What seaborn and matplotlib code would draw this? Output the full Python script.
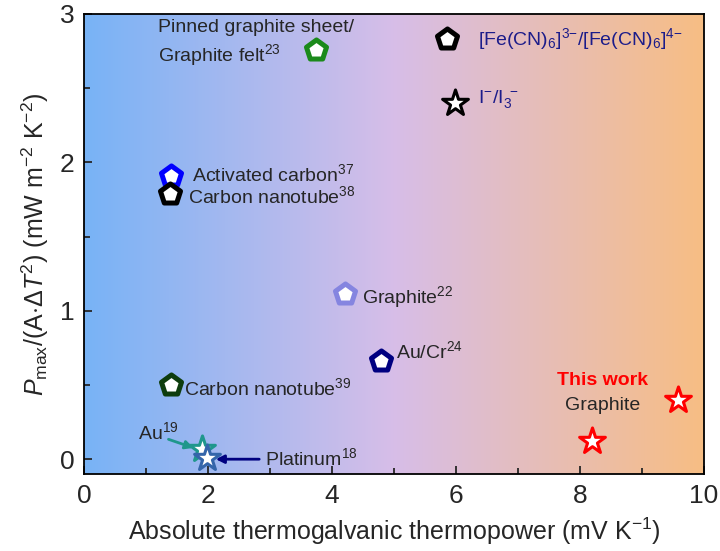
import numpy as np
import pandas as pd
import matplotlib
matplotlib.use("Agg")
import matplotlib.pyplot as plt
import seaborn as sns
from matplotlib.colors import LinearSegmentedColormap
from matplotlib.ticker import MultipleLocator

# data
names = ["Pinned graphite sheet", "Fe(CN)6", "I-/I3-", "Activated carbon", "Carbon nanotube 38",
         "Graphite 22", "Au/Cr", "Carbon nanotube 39", "Au", "Platinum", "This work 1", "This work 2"]
thermopower = [3.74, 5.85, 5.98, 1.40, 1.39, 4.21, 4.79, 1.40, 1.90, 1.98, 8.19, 9.58]
power_density = [2.76, 2.83, 2.40, 1.91, 1.79, 1.11, 0.66, 0.50, 0.07, 0.01, 0.12, 0.40]
marker_kind = ["p", "p", "*", "p", "p", "p", "p", "p", "*", "*", "*", "*"]
edge_colors = ["#1b8a1b", "#000000", "#000000", "#0000ff", "#000000", "#8585e0",
               "#000080", "#0e3d0e", "#1f978c", "#3465aa", "#ff0000", "#ff0000"]

df = pd.DataFrame({"name": names, "x": thermopower, "y": power_density,
                   "marker": marker_kind, "color": edge_colors})

sns.set_theme(style="ticks")
plt.rcParams["font.family"] = ["Liberation Sans", "DejaVu Sans"]
plt.rcParams["mathtext.fontset"] = "custom"
plt.rcParams["mathtext.rm"] = "Liberation Sans"
plt.rcParams["mathtext.it"] = "Liberation Sans:italic"
plt.rcParams["mathtext.bf"] = "Liberation Sans:bold"

fig = plt.figure(figsize=(7.2, 5.51), dpi=100)
ax = fig.add_axes([0.1167, 0.1397, 0.8611, 0.8349])

# background gradient
cmap = LinearSegmentedColormap.from_list("bg", ["#78b3f6", "#d7bee8", "#f7bd84"])
grad = np.linspace(0, 1, 256).reshape(1, -1)
ax.imshow(grad, cmap=cmap, aspect="auto", extent=[0, 10, -0.1, 3], zorder=0)

# markers
for _, row in df.iterrows():
    size = 230 if row["marker"] == "p" else 380
    lw = 3.6 if row["marker"] == "p" else 2.2
    sns.scatterplot(x=[row["x"]], y=[row["y"]], marker=row["marker"], s=size,
                    facecolor="white", edgecolor=row["color"], linewidth=lw,
                    ax=ax, zorder=4, legend=False)

fs = 14
ax.text(1.19, 2.91, "Pinned graphite sheet/", fontsize=fs, va="center")
ax.text(1.19, 2.72, r"Graphite felt$^{23}$", fontsize=fs, va="center")
ax.text(6.35, 2.83, r"[Fe(CN)$_6$]$^{3{-}}$/[Fe(CN)$_6$]$^{4{-}}$", fontsize=fs, va="center", color="#1c1c8a")
ax.text(6.35, 2.43, r"I$^{-}$/I$_3^{\ -}$", fontsize=fs, va="center", color="#1c1c8a")
ax.text(1.74, 1.92, r"Activated carbon$^{37}$", fontsize=fs, va="center")
ax.text(1.68, 1.77, r"Carbon nanotube$^{38}$", fontsize=fs, va="center")
ax.text(4.48, 1.09, r"Graphite$^{22}$", fontsize=fs, va="center")
ax.text(5.03, 0.73, r"Au/Cr$^{24}$", fontsize=fs, va="center")
ax.text(1.61, 0.48, r"Carbon nanotube$^{39}$", fontsize=fs, va="center")
ax.text(0.87, 0.18, r"Au$^{19}$", fontsize=fs, va="center")
ax.text(2.92, 0.01, r"Platinum$^{18}$", fontsize=fs, va="center")
ax.text(8.37, 0.53, "This work", fontsize=fs, va="center", ha="center", color="#ff0000", fontweight="bold")
ax.text(8.37, 0.36, "Graphite", fontsize=fs, va="center", ha="center")

ax.annotate("", xy=(1.81, 0.07), xytext=(1.32, 0.14),
            arrowprops=dict(arrowstyle="-|>", color="#1f978c", lw=2, mutation_scale=12), zorder=3)
ax.annotate("", xy=(2.08, 0.0), xytext=(2.87, 0.0),
            arrowprops=dict(arrowstyle="-|>", color="#000080", lw=2, mutation_scale=12), zorder=3)

ax.set_xlim(0, 10)
ax.set_ylim(-0.1, 3)
ax.xaxis.set_major_locator(MultipleLocator(2))
ax.xaxis.set_minor_locator(MultipleLocator(1))
ax.yaxis.set_major_locator(MultipleLocator(1))
ax.yaxis.set_minor_locator(MultipleLocator(0.5))
ax.tick_params(which="both", direction="in", width=1.3, labelsize=19, top=False, right=False)
ax.tick_params(which="major", length=6, pad=7)
ax.tick_params(which="minor", length=4)
for sp in ax.spines.values():
    sp.set_linewidth(1.3)
    sp.set_color("black")

ax.set_xlabel(r"Absolute thermogalvanic thermopower (mV K$^{-1}$)", fontsize=18, labelpad=6)
ax.set_ylabel(r"$P_{\mathrm{max}}/(\mathrm{A}{\cdot}\Delta T^{2})$ (mW m$^{-2}$ K$^{-2}$)", fontsize=18, labelpad=6)

fig.savefig("out.png", dpi=100)
